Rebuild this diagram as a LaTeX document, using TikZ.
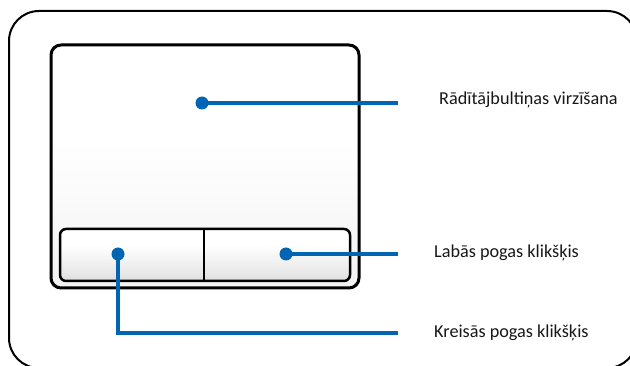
\documentclass[tikz,border=0pt]{standalone}
\usepackage{fontspec}
\setmainfont{Carlito}
\definecolor{callblue}{RGB}{0,102,179}
\definecolor{inkblack}{RGB}{25,22,23}
\begin{document}
\begin{tikzpicture}[x=1pt,y=-1pt,
  frame/.style={draw=black,line width=2pt,rounded corners=30pt},
  pad/.style={draw=black,line width=3pt,rounded corners=10pt},
  btns/.style={draw=black,line width=2.5pt,rounded corners=6pt},
  dot/.style={circle,fill=callblue,inner sep=0pt,minimum size=13pt},
  lead/.style={draw=callblue,line width=3.5pt},
  lbl/.style={anchor=base west,inner sep=0pt,font=\fontsize{18.2}{20}\selectfont,text=inkblack}]
\useasboundingbox (0,0) rectangle (630,366);
\clip (0,0) rectangle (630,366);
\draw[frame] (9,11) rectangle (637,368);
% touchpad surface with a soft gradient towards the bottom
\begin{scope}
  \clip[rounded corners=10pt] (51,45) rectangle (359,288);
  \fill[white] (51,45) rectangle (359,288);
  \foreach \i in {0,...,23} {
    \pgfmathsetmacro{\shade}{\i*5/23}
    \fill[black!\shade] (51,{140+\i*6.2}) rectangle (359,{140+(\i+1)*6.2+0.5});
  }
\end{scope}
\draw[pad] (51,45) rectangle (359,288);
% buttons with gradient
\begin{scope}
  \clip[rounded corners=6pt] (60,229) rectangle (350,281);
  \fill[white] (60,229) rectangle (350,281);
  \foreach \i in {0,...,15} {
    \pgfmathsetmacro{\shade}{\i*12/15}
    \fill[black!\shade] (60,{245+\i*2.3}) rectangle (350,{245+(\i+1)*2.3+0.4});
  }
\end{scope}
\draw[btns] (60,229) rectangle (350,281);
\draw[line width=2.5pt] (204,229) -- (204,281);
\node[dot] (d1) at (202,103) {};
\node[dot] (d2) at (286,254) {};
\node[dot] (d3) at (118,254) {};
\coordinate (e1) at (398,103);
\coordinate (e2) at (398,254);
\coordinate (k3) at (118,333);
\coordinate (e3) at (398,333);
\draw[lead] (d1.center) -- (e1);
\draw[lead] (d2.center) -- (e2);
\draw[lead] (d3.center) -- (k3) -- (e3);
\node[lbl] (t1) at (439,105) {Rādītājbultiņas virzīšana};
\node[lbl] (t2) at (434,258) {Labās pogas klikšķis};
\node[lbl] (t3) at (434,338) {Kreisās pogas klikšķis};
\end{tikzpicture}
\end{document}
